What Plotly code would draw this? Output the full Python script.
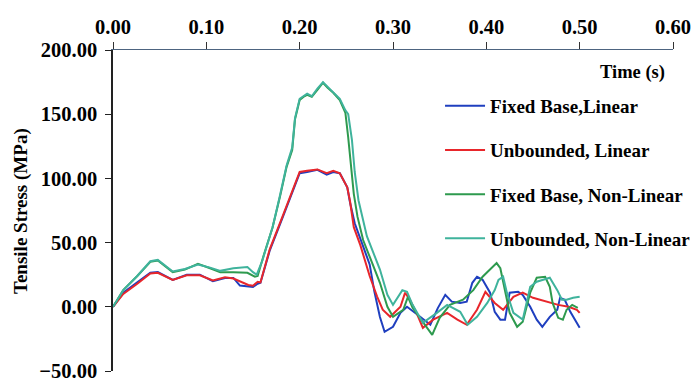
import plotly.graph_objects as go

# ---- data (time in s, tensile stress in MPa) ----
t_fixed_lin = [0, 0.011, 0.026, 0.040, 0.048, 0.064, 0.079, 0.093, 0.107, 0.120, 0.129, 0.136, 0.150, 0.155,
               0.158, 0.168, 0.182, 0.193, 0.200, 0.208, 0.219, 0.229, 0.236, 0.243, 0.251, 0.254, 0.259, 0.268,
               0.275, 0.280, 0.286, 0.291, 0.300, 0.308, 0.315, 0.326, 0.340, 0.348, 0.356, 0.363, 0.372, 0.379,
               0.385, 0.390, 0.396, 0.404, 0.409, 0.415, 0.420, 0.425, 0.434, 0.439, 0.447, 0.454, 0.460, 0.468,
               0.476, 0.479, 0.484, 0.490, 0.495, 0.500]
s_fixed_lin = [0, 11, 19, 26.5, 27, 21, 25, 25, 20, 22.5, 22.5, 16.5, 15.5, 18,
               18.7, 44, 70, 91, 104, 105, 106.7, 103, 105, 104, 93, 81, 65, 47,
               33, 12, -8, -19.5, -15.6, -4.7, 0, -6, -14, -1, 9.3, 4, 3, 4,
               18.7, 23.4, 21, 11, -4, -10, -10, 11, 11.7, 9.3, 0, -10, -15.6, -7.8,
               -2.3, 7, 5.5, -3.9, -10, -16.4]

t_unb_lin = [0, 0.011, 0.026, 0.040, 0.048, 0.064, 0.079, 0.093, 0.107, 0.120, 0.129, 0.136, 0.145, 0.150,
             0.155, 0.158, 0.168, 0.182, 0.193, 0.200, 0.208, 0.219, 0.229, 0.236, 0.243, 0.251, 0.254, 0.258,
             0.265, 0.275, 0.283, 0.289, 0.297, 0.308, 0.313, 0.318, 0.326, 0.332, 0.343, 0.358, 0.369, 0.379,
             0.390, 0.399, 0.409, 0.418, 0.429, 0.439, 0.450, 0.468, 0.477, 0.488, 0.497, 0.500]
s_unb_lin = [0, 10, 18, 26, 26.5, 21, 24.5, 24.5, 20.5, 23, 22, 20, 17, 16.4,
             19.5, 19, 45, 71, 92, 105, 106, 107, 104, 106, 104, 93, 82, 62,
             48, 24, 8, -2.3, -7.8, 0, 11, 5.5, -6, -16.4, -10, -4.7, -10, -14,
             -2.3, 11.7, 3, -2.3, 7.8, 11, 7, 3, 1.5, 0, -2.3, -4.7]

t_fixed_nl = [0, 0.011, 0.026, 0.040, 0.048, 0.064, 0.077, 0.091, 0.104, 0.115, 0.129, 0.144, 0.152, 0.155,
              0.161, 0.171, 0.179, 0.186, 0.192, 0.195, 0.200, 0.204, 0.208, 0.213, 0.219, 0.225, 0.230, 0.236,
              0.243, 0.249, 0.252, 0.255, 0.258, 0.262, 0.268, 0.275, 0.286, 0.294, 0.300, 0.311, 0.316, 0.321,
              0.336, 0.342, 0.350, 0.361, 0.375, 0.386, 0.396, 0.406, 0.411, 0.415, 0.420, 0.425, 0.433, 0.439,
              0.447, 0.454, 0.463, 0.468, 0.471, 0.477, 0.482, 0.486, 0.492, 0.498]
s_fixed_nl = [0, 13, 24, 35, 36, 27, 29, 33.5, 30, 27, 27, 26.5, 23.4, 24,
              39, 62, 86, 109, 122, 146, 161, 163.5, 165, 163.5, 169, 174.5, 170.5, 166.7,
              161, 151, 132, 110, 88, 70, 52, 39, 18.7, 0, -7.8, -2.3, 7.8, -0.8,
              -16.4, -21.8, -8.6, 1.5, 5.5, 13, 23.4, 31, 34, 30, 13, -4.7, -15.6, -11.7,
              11, 22.6, 23.4, 15.6, 3, -8.6, -10, -2.3, 1.5, -0.8]

t_unb_nl = [0, 0.011, 0.026, 0.040, 0.048, 0.064, 0.077, 0.091, 0.104, 0.115, 0.129, 0.144, 0.150, 0.154,
            0.160, 0.171, 0.179, 0.186, 0.192, 0.195, 0.200, 0.204, 0.208, 0.213, 0.219, 0.225, 0.230, 0.236,
            0.243, 0.249, 0.252, 0.256, 0.259, 0.263, 0.272, 0.286, 0.294, 0.300, 0.310, 0.315, 0.321, 0.332,
            0.347, 0.358, 0.372, 0.380, 0.390, 0.401, 0.409, 0.413, 0.418, 0.422, 0.429, 0.439, 0.447, 0.454,
            0.468, 0.476, 0.481, 0.486, 0.493, 0.500]
s_unb_nl = [0, 13, 24, 35.5, 36.5, 27.5, 29.5, 33, 30.5, 28, 30, 31, 27, 25,
            36, 62, 87, 110, 124, 147, 162, 164, 166, 164, 170, 175, 171, 167,
            162, 153, 150, 130, 105, 83, 55, 29, 9.3, 1.5, 13, 11.7, 1.5, -12.5,
            -4.7, 1.5, -3.9, -14, -7.8, 3, 13, 21, 23.4, 11, -4.7, -10, 15.6, 19.5,
            22.6, 13, 5.5, 5.5, 7, 7.8]

x_ticks = [0.0, 0.1, 0.2, 0.3, 0.4, 0.5, 0.6]
y_ticks = [-50, 0, 50, 100, 150, 200]

series = [
    ("Fixed Base,Linear", t_fixed_lin, s_fixed_lin, "#1f3fbf"),
    ("Unbounded, Linear", t_unb_lin, s_unb_lin, "#e8262b"),
    ("Fixed Base, Non-Linear", t_fixed_nl, s_fixed_nl, "#2e9a4e"),
    ("Unbounded, Non-Linear", t_unb_nl, s_unb_nl, "#3fb39c"),
]

FONT = "Liberation Serif"

fig = go.Figure()
for i, (name, t, s, c) in enumerate(series):
    fig.add_trace(go.Scatter(x=t, y=s, mode="lines", name=name,
                             line=dict(color=c, width=2), legendgroup=str(i)))

fig.update_layout(
    width=693, height=382,
    margin=dict(l=113, r=20, t=50, b=11, autoexpand=False),
    paper_bgcolor="white", plot_bgcolor="white",
    font=dict(family=FONT, color="black"),
    showlegend=True,
    legend=dict(x=0.584, y=0.885, xanchor="left", yanchor="top",
                font=dict(family=FONT, size=19, color="black", weight="bold"),
                tracegroupgap=16.5, bgcolor="rgba(0,0,0,0)", itemwidth=40),
    xaxis=dict(side="top", range=[0, 0.6], tickvals=x_ticks, tickformat=".2f",
               showline=True, linecolor="#4d6480", linewidth=1, ticks="outside",
               ticklen=7, tickcolor="#333", showgrid=False, zeroline=False,
               automargin=False, ticklabeloverflow="allow",
               tickfont=dict(family=FONT, size=20.5, color="black", weight="bold")),
    yaxis=dict(range=[-50, 200], tickvals=y_ticks, tickformat=".2f",
               showline=True, linecolor="#222", linewidth=1.5, ticks="outside",
               ticklen=6, tickcolor="#222", showgrid=False, zeroline=False,
               ticklabelstandoff=4, automargin=False, ticklabeloverflow="allow",
               tickfont=dict(family=FONT, size=20.5, color="black", weight="bold")),
    annotations=[
        dict(text="Tensile Stress (MPa)", xref="paper", yref="paper",
             x=(21 - 113) / 560, y=(371 - 211) / 321, textangle=-90,
             showarrow=False, xanchor="center", yanchor="middle",
             font=dict(family=FONT, size=19, color="black", weight="bold")),
        dict(text="Time (s)", xref="paper", yref="paper",
             x=(667 - 113) / 560, y=(371 - 72) / 321,
             showarrow=False, xanchor="right", yanchor="middle",
             font=dict(family=FONT, size=18.5, color="black", weight="bold")),
    ],
)

# remove the default 8px page margin so the 693x382 figure fills the window exactly
fig.write_html("out.html", config={"displayModeBar": False},
               post_script="document.body.style.margin='0px';")
